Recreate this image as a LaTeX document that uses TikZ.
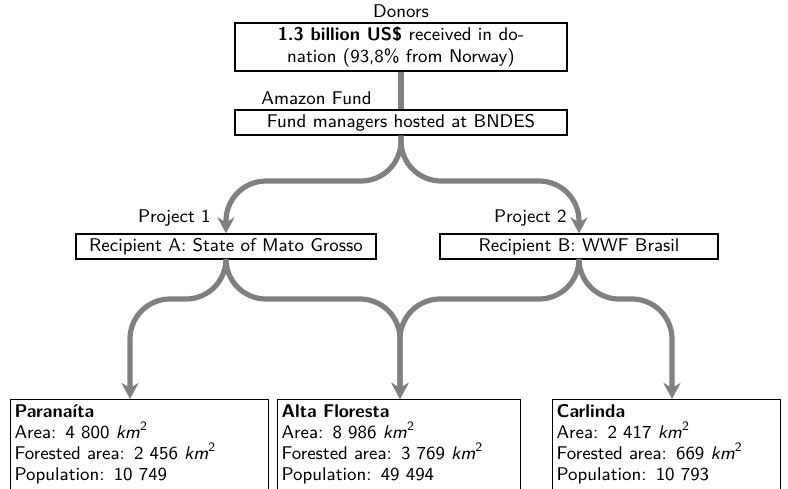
\documentclass[tikz,border=0pt]{standalone}
\usetikzlibrary{arrows.meta}
\newcommand{\kmsq}{\textit{km}\textsuperscript{2}}
\begin{document}
\begin{tikzpicture}[x=0.5pt,y=-0.5pt,
  every node/.style={font=\sffamily\fontsize{9.2}{11}\selectfont},
  box/.style={draw=black, line width=0.6pt, inner sep=0pt, align=center},
  lab/.style={inner sep=0pt},
  city/.style={draw=black, line width=0.6pt, anchor=north west, align=left,
    inner xsep=2pt, inner ysep=2.5pt, text depth=45pt,
    font=\sffamily\fontsize{9.2}{10.5}\selectfont},
  flow/.style={draw=black!50, line width=2.6pt, rounded corners=20pt,
    -{Stealth[length=8pt,width=8.5pt,inset=2.5pt]}},
  link/.style={draw=black!50, line width=2.6pt}]
\clip (0,0) rectangle (788,488);
\fill[white] (0,0) rectangle (788,488);

\node[lab] (donlab) at (401,11.5) {Donors};
\node[box, minimum width=166pt, minimum height=24pt] (don) at (401,47)
  {\textbf{1.3 billion US\$} received in do-\\nation (93,8\% from Norway)};
\node[lab, anchor=east] (amlab) at (372,98) {Amazon Fund};
\node[box, minimum width=166pt, minimum height=12.5pt] (fund) at (401,122.5)
  {Fund managers hosted at BNDES};

\node[lab, anchor=east] (p1lab) at (211,218) {Project 1};
\node[box, minimum width=150pt, minimum height=12.5pt] (ra) at (226,246.5)
  {Recipient A: State of Mato Grosso};
\node[lab, anchor=east] (p2lab) at (567,218) {Project 2};
\node[box, minimum width=139pt, minimum height=12.5pt] (rb) at (579,246.5)
  {Recipient B: WWF Brasil};

\node[city, text width=125pt] (par) at (10,399)
  {\textbf{Paranaíta}\\Area: 4 800 \kmsq\\Forested area: 2 456 \kmsq\\Population: 10 749};
\node[city, text width=117.5pt] (alta) at (277,399)
  {\textbf{Alta Floresta}\\Area: 8 986 \kmsq\\Forested area: 3 769 \kmsq\\Population: 49 494};
\node[city, text width=110pt] (car) at (552,399)
  {\textbf{Carlinda}\\Area: 2 417 \kmsq\\Forested area: 669 \kmsq\\Population: 10 793};

\coordinate (h1) at (0,181);
\coordinate (h2) at (0,299);
\coordinate (parin) at (130,399);
\coordinate (altain) at (400,399);
\coordinate (carin) at (672,399);

\draw[link] (don.south) -- (fund.north);
\draw[flow] (fund.south) |- (ra.north |- h1) -- (ra.north);
\draw[flow] (fund.south) |- (rb.north |- h1) -- (rb.north);
\draw[flow] (ra.south) |- (parin |- h2) -- (parin);
\draw[flow] (ra.south) |- (altain |- h2) -- (altain);
\draw[flow] (rb.south) |- (altain |- h2) -- (altain);
\draw[flow] (rb.south) |- (carin |- h2) -- (carin);
\end{tikzpicture}
\end{document}
